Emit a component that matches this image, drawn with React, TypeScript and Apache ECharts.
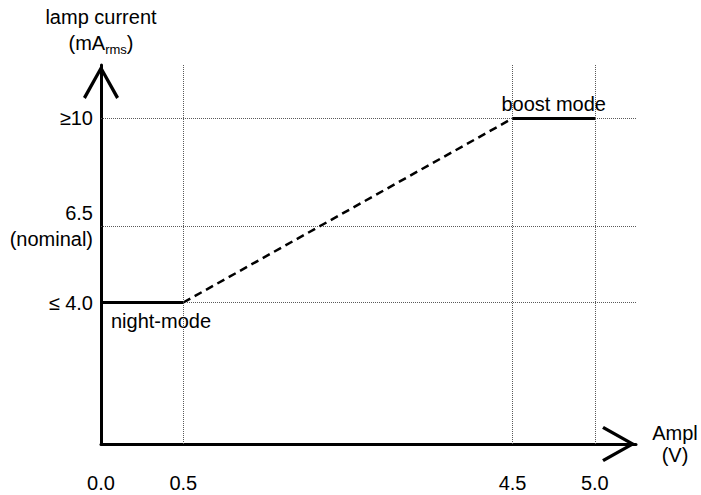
import React, { useEffect, useRef } from 'react';
import * as echarts from 'echarts';

// ---- data ----
const xTickValues = [0.0, 0.5, 4.5, 5.0]; // amplitude (V)
const xTickLabels = ['0.0', '0.5', '4.5', '5.0'];
const yTickValues = [4.0, 6.5, 10]; // lamp current (mA rms)
const yTickLabels = ['≤ 4.0', '6.5\n(nominal)', '≥10'];

const nightAmpl = [0.0, 0.5];
const nightCurrent = [4.0, 4.0];
const rampAmpl = [0.5, 4.5];
const rampCurrent = [4.0, 10];
const boostAmpl = [4.5, 5.0];
const boostCurrent = [10, 10];
const modeLabels = ['night-mode', 'boost mode'];

// schematic amplitude axis: the 0.5 – 4.5 V span is drawn at half scale
const BREAK_LO = 0.5;
const BREAK_HI = 4.5;
const OUTER_SCALE = 2;
const INNER_SCALE = 1;
function xPos(v: number): number {
  if (v <= BREAK_LO) return v * OUTER_SCALE;
  if (v <= BREAK_HI) return BREAK_LO * OUTER_SCALE + (v - BREAK_LO) * INNER_SCALE;
  return BREAK_LO * OUTER_SCALE + (BREAK_HI - BREAK_LO) * INNER_SCALE + (v - BREAK_HI) * OUTER_SCALE;
}

const FONT = '"Liberation Sans", Arial, Helvetica, sans-serif';
const ARROW = 'path://M18,0 L36,32 L33.2,33.8 L18,6.5 L2.8,33.8 L0,32 Z';

export default function App() {
  const ref = useRef<HTMLDivElement>(null);

  useEffect(() => {
    if (!ref.current) return;
    const chart = echarts.init(ref.current, undefined, { renderer: 'svg' });

    const pts = (xs: number[], ys: number[]) => xs.map((v, i) => [xPos(v), ys[i]]);
    const night = pts(nightAmpl, nightCurrent);
    const ramp = pts(rampAmpl, rampCurrent);
    const boost = pts(boostAmpl, boostCurrent);

    const axisLine = {
      onZero: false,
      lineStyle: { color: '#000', width: 3 },
      symbol: ['none', ARROW],
      symbolSize: [36, 34],
      symbolOffset: [0, -17],
    };
    const solid = { color: '#000', width: 3, type: 'solid' as const };
    const labelText = { fontSize: 20, color: '#000', fontFamily: FONT };

    chart.setOption({
      animation: false,
      backgroundColor: '#fff',
      textStyle: { fontFamily: FONT },
      grid: { left: 101, right: 65, top: 65, bottom: 51, containLabel: false },
      xAxis: {
        type: 'value',
        min: 0,
        max: 6.5,
        axisLine,
        axisTick: { show: false },
        splitLine: { show: false },
        axisLabel: {
          customValues: xTickValues.map(xPos),
          formatter: (val: number) => {
            const i = xTickValues.findIndex((v) => Math.abs(xPos(v) - val) < 1e-6);
            return i >= 0 ? xTickLabels[i] : '';
          },
          margin: 29,
          ...labelText,
        },
        name: 'Ampl\n(V)',
        nameLocation: 'end',
        nameGap: 39,
        nameTextStyle: { ...labelText, align: 'center', verticalAlign: 'middle', lineHeight: 22 },
      },
      yAxis: {
        type: 'value',
        min: -0.61,
        max: 11.74,
        axisLine,
        axisTick: { show: false },
        splitLine: { show: false },
        axisLabel: {
          customValues: yTickValues,
          formatter: (val: number) => {
            const i = yTickValues.findIndex((v) => Math.abs(v - val) < 1e-6);
            return i >= 0 ? yTickLabels[i] : '';
          },
          margin: 8,
          lineHeight: 26,
          ...labelText,
        },
        name: '{a|lamp current}\n{a|(mA}{s|rms}{a|)}',
        nameLocation: 'end',
        nameGap: 9,
        nameTextStyle: {
          align: 'center',
          verticalAlign: 'bottom',
          rich: {
            a: { fontSize: 20, lineHeight: 26, color: '#000', fontFamily: FONT, align: 'center' },
            s: {
              fontSize: 13,
              lineHeight: 18,
              verticalAlign: 'bottom',
              color: '#000',
              fontFamily: FONT,
              align: 'center',
            },
          },
        },
      },
      series: [
        {
          type: 'line',
          z: 1,
          data: [],
          silent: true,
          markLine: {
            silent: true,
            symbol: 'none',
            label: { show: false },
            lineStyle: { type: 'dotted', color: '#5a5a5a', width: 1 },
            data: [
              ...xTickValues.slice(1).map((v) => ({ xAxis: xPos(v) })),
              ...yTickValues.map((v) => ({ yAxis: v })),
            ],
          },
        },
        {
          type: 'line',
          z: 3,
          data: night,
          symbol: 'none',
          lineStyle: solid,
          markLine: {
            silent: true,
            symbol: 'none',
            lineStyle: solid,
            label: {
              show: true,
              position: 'insideStartBottom',
              formatter: modeLabels[0],
              distance: [10, 8],
              ...labelText,
            },
            data: [[{ coord: night[0] }, { coord: night[night.length - 1] }]],
          },
        },
        {
          type: 'line',
          z: 3,
          data: ramp,
          symbol: 'none',
          lineStyle: { color: '#000', width: 2.5, type: [8, 5] },
        },
        {
          type: 'line',
          z: 3,
          data: boost,
          symbol: 'none',
          lineStyle: solid,
          markLine: {
            silent: true,
            symbol: 'none',
            lineStyle: solid,
            label: {
              show: true,
              position: 'insideMiddleTop',
              formatter: modeLabels[1],
              distance: 4,
              ...labelText,
            },
            data: [[{ coord: boost[0] }, { coord: boost[boost.length - 1] }]],
          },
        },
      ],
    });

    return () => chart.dispose();
  }, []);

  return (
    <div
      ref={ref}
      style={{ position: 'fixed', left: 0, top: 0, width: 701, height: 495, background: '#fff' }}
    />
  );
}
